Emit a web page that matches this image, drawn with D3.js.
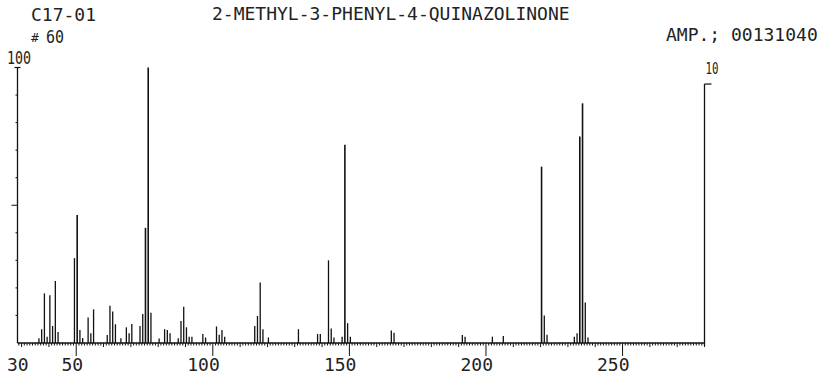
<!DOCTYPE html>
<html>
<head>
<meta charset="utf-8">
<script src="https://cdn.jsdelivr.net/npm/d3@7"></script>
<style>
  html, body { margin: 0; padding: 0; background: #fff; }
  svg { display: block; }
  text { font-family: "DejaVu Sans Mono", monospace; fill: #222; }
</style>
</head>
<body>
<div id="spectrum"></div>
<script>
// mass spectrum, 2-methyl-3-phenyl-4-quinazolinone
const mz = [37, 38, 39, 40, 41, 42, 43, 44, 50, 51, 52, 53, 55, 56, 57, 62, 63, 64, 65, 67,
  69, 70, 71, 74, 75, 76, 77, 78, 81, 83, 84, 85, 88, 89, 90, 91, 92, 93, 97, 98,
  102, 103, 104, 105, 116, 117, 118, 119, 121, 132, 139, 140, 143, 144, 145, 148, 149, 150, 151,
  166, 167, 192, 193, 203, 207, 221, 222, 223, 233, 234, 235, 236, 237, 238];
const intensity = [1.7, 5, 18, 2.3, 17.3, 6.2, 22.5, 4, 30.8, 46.5, 4.7, 1.8, 9.3, 3.5, 12.2, 2.9, 13.5, 11.4, 6.8, 1.7,
  5.7, 3.5, 6.9, 6.2, 10.5, 41.8, 100, 11, 1.6, 5, 4.7, 3.5, 1.7, 8, 13.2, 5.7, 2.3, 2.3, 3.3, 2,
  6, 3, 4.7, 2.3, 6.2, 9.8, 22, 5, 2, 5, 3.3, 3.3, 30, 5.3, 2, 2.3, 72, 7.2, 2.3,
  4.5, 3.7, 2.9, 2.3, 2.3, 2.5, 64, 10, 3, 2.3, 3.5, 75, 87, 14.7, 2];
const xTickLabels = [30, 50, 100, 150, 200, 250];
const header = { id: 'C17-01', scan: '60', title: '2-METHYL-3-PHENYL-4-QUINAZOLINONE', amp: 'AMP.; 00131040' };
const leftScaleLabel = '100';
const rightScaleLabel = '10';

const width = 826, height = 379;
const mzMin = 28.5, mzMax = 280;
const peakShift = -0.65;      // pen registration of the peaks vs. the printed ticks
const rightAxisTop = 94;      // % where the right-hand scale line starts

const svg = d3.select('#spectrum').append('svg')
  .attr('width', width)
  .attr('height', height);

const x = d3.scaleLinear().domain([mzMin, mzMax]).range([17.5, 704.5]);
const y = d3.scaleLinear().domain([0, 100]).range([343, 67.5]);

// peaks
const peaks = mz.map((m, i) => ({ m: m, v: intensity[i] }));
svg.append('g')
  .selectAll('line')
  .data(peaks)
  .enter().append('line')
  .attr('x1', d => x(d.m + peakShift))
  .attr('x2', d => x(d.m + peakShift))
  .attr('y1', y(0))
  .attr('y2', d => y(d.v))
  .attr('stroke', '#111')
  .attr('stroke-width', d => d.v > 40 ? 1.6 : 1.3);

// x axis: tick every unit, longer every 10, long at labelled masses
const xAxis = svg.append('g').attr('transform', 'translate(0,' + y(0) + ')');
xAxis.append('line')
  .attr('x1', x(mzMin)).attr('x2', x(mzMax))
  .attr('stroke', '#111').attr('stroke-width', 1.3);
const unitTicks = d3.range(29, mzMax + 1);
xAxis.selectAll('.minor')
  .data(unitTicks)
  .enter().append('line')
  .attr('class', 'minor')
  .attr('x1', d => x(d)).attr('x2', d => x(d))
  .attr('y1', 0)
  .attr('y2', d => xTickLabels.includes(d) && d !== 30 ? 13 : (d % 10 === 0 ? 4 : 2.5))
  .attr('stroke', '#111')
  .attr('stroke-width', 1);
xAxis.selectAll('.lbl')
  .data(xTickLabels)
  .enter().append('text')
  .attr('class', 'lbl')
  .attr('x', d => x(d) + 7)
  .attr('y', 28)
  .attr('text-anchor', 'end')
  .attr('font-size', 18)
  .text(d => d);

// left intensity scale
const yAxis = svg.append('g').attr('transform', 'translate(' + x(mzMin) + ',0)');
yAxis.append('line')
  .attr('y1', y(0)).attr('y2', y(100))
  .attr('stroke', '#111').attr('stroke-width', 1.3);
yAxis.append('line')
  .attr('x1', -3).attr('x2', 3)
  .attr('y1', y(100)).attr('y2', y(100))
  .attr('stroke', '#111').attr('stroke-width', 1.2);
yAxis.selectAll('.ytick')
  .data(d3.range(10, 100, 10))
  .enter().append('line')
  .attr('class', 'ytick')
  .attr('x1', d => d === 50 ? -6 : -2).attr('x2', 0)
  .attr('y1', d => y(d)).attr('y2', d => y(d))
  .attr('stroke', '#111').attr('stroke-width', 1);

// right-hand x10 scale line
const rAxis = svg.append('g').attr('transform', 'translate(' + x(mzMax) + ',0)');
rAxis.append('line')
  .attr('y1', y(0) + 3).attr('y2', y(rightAxisTop))
  .attr('stroke', '#111').attr('stroke-width', 1.3);
rAxis.append('line')
  .attr('x1', 0).attr('x2', 7)
  .attr('y1', y(rightAxisTop)).attr('y2', y(rightAxisTop))
  .attr('stroke', '#111').attr('stroke-width', 1.2);
rAxis.append('text')
  .attr('x', 1).attr('y', 74)
  .attr('font-size', 16)
  .attr('textLength', 13)
  .attr('lengthAdjust', 'spacingAndGlyphs')
  .text(rightScaleLabel);

// header texts
svg.append('text').attr('x', 31).attr('y', 21).attr('font-size', 18).text(header.id);
svg.append('text').attr('x', 31).attr('y', 42).attr('font-size', 13).text('#');
svg.append('text').attr('x', 46).attr('y', 43).attr('font-size', 18)
  .attr('textLength', 18).attr('lengthAdjust', 'spacingAndGlyphs').text(header.scan);
svg.append('text').attr('x', 212).attr('y', 20).attr('font-size', 18).text(header.title);
svg.append('text').attr('x', 666).attr('y', 41).attr('font-size', 18).text(header.amp);
svg.append('text').attr('x', 7).attr('y', 64).attr('font-size', 17)
  .attr('textLength', 24).attr('lengthAdjust', 'spacingAndGlyphs').text(leftScaleLabel);
</script>
</body>
</html>
